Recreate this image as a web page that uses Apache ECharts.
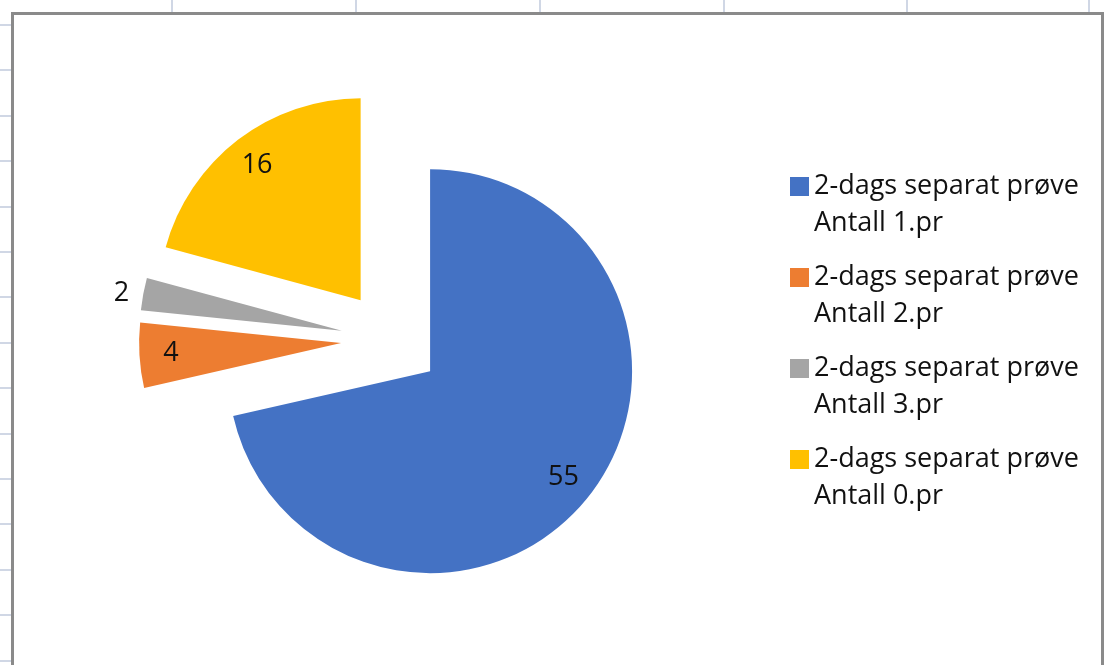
<!DOCTYPE html>
<html>
<head>
<meta charset="utf-8">
<script src="https://cdn.jsdelivr.net/npm/echarts@6/dist/echarts.min.js"></script>
<style>
  html, body { margin: 0; padding: 0; background: #fff; }
  #chart { width: 1105px; height: 665px; }
</style>
</head>
<body>
<div id="chart"></div>
<script>
 // data
 var names = ['2-dags separat prøve Antall 1.pr', '2-dags separat prøve Antall 2.pr',
              '2-dags separat prøve Antall 3.pr', '2-dags separat prøve Antall 0.pr'];
 var values = [55, 4, 2, 16];
 var colors = ['#4472C4', '#ED7D31', '#A5A5A5', '#FFC000'];
 // slices whose label sits outside the pie
 var outsideLabels = ['2-dags separat prøve Antall 3.pr'];

 var font = 'Open Sans';
 var lineH = 37;

 function drawChart() {
     var myChart = echarts.init(document.getElementById('chart'));

     // spreadsheet grid stubs + chart frame
     var graphics = [];
     var gx = [172, 356, 540, 724, 907, 1089];
     for (var i = 0; i < gx.length; i++) {
         graphics.push({ type: 'line', shape: { x1: gx[i], y1: 0, x2: gx[i], y2: 12 },
             style: { stroke: '#d0d7e5', lineWidth: 2 } });
     }
     for (var y = 25; y < 665; y += 45.4) {
         graphics.push({ type: 'line', shape: { x1: 0, y1: Math.round(y), x2: 11, y2: Math.round(y) },
             style: { stroke: '#d0d7e5', lineWidth: 2 } });
     }
     graphics.push({ type: 'rect', z: -1, shape: { x: 12.5, y: 13.5, width: 1090, height: 700 },
         style: { fill: '#fff', stroke: '#8a8a8a', lineWidth: 3 } });

     var mainData = names.map(function (n, i) {
         var outside = outsideLabels.indexOf(n) >= 0;
         return { name: n, value: values[i], selected: true,
             itemStyle: { color: colors[i] },
             label: { show: outside } };
     });
     var labelData = names.map(function (n, i) {
         var outside = outsideLabels.indexOf(n) >= 0;
         return { name: n, value: values[i], selected: true,
             label: { show: !outside } };
     });

     var labelStyle = { formatter: '{c}', fontFamily: font, fontSize: 27, color: '#111' };

     var option = {
         animation: false,
         graphic: graphics,
         legend: {
             orient: 'vertical',
             left: 790,
             top: 168,
             padding: 0,
             itemWidth: 19,
             itemHeight: 19 + lineH,
             itemGap: 17,
             // square at the top of a tall box so it lines up with the first text line
             icon: 'path://M0,0h19v19h-19z M0,' + (19 + lineH) + 'h0.01v-0.01h-0.01z',
             data: names,
             selectedMode: false,
             formatter: function (name) {
                 return name.replace(' Antall', '\nAntall');
             },
             textStyle: { fontFamily: font, fontSize: 27, color: '#111', lineHeight: lineH }
         },
         series: [
             {
                 name: 'pie',
                 type: 'pie',
                 center: [391, 340],
                 radius: 202,
                 startAngle: 90,
                 clockwise: true,
                 selectedMode: 'multiple',
                 selectedOffset: 50,
                 avoidLabelOverlap: false,
                 emphasis: { disabled: true },
                 label: Object.assign({ show: false, position: 'outside', distanceToLabelLine: 10 }, labelStyle),
                 labelLine: { show: false, length: 2, length2: 2 },
                 data: mainData
             },
             {
                 // transparent twin used only to place the inside labels further out
                 name: 'labels',
                 type: 'pie',
                 silent: true,
                 center: [391, 340],
                 radius: [0, 335],
                 startAngle: 90,
                 clockwise: true,
                 selectedMode: 'multiple',
                 selectedOffset: 50,
                 itemStyle: { color: 'rgba(0,0,0,0)' },
                 emphasis: { disabled: true },
                 label: Object.assign({ show: true, position: 'inside' }, labelStyle),
                 labelLine: { show: false },
                 data: labelData
             }
         ]
     };
     myChart.setOption(option);
 }

 drawChart();
</script>
</body>
</html>
